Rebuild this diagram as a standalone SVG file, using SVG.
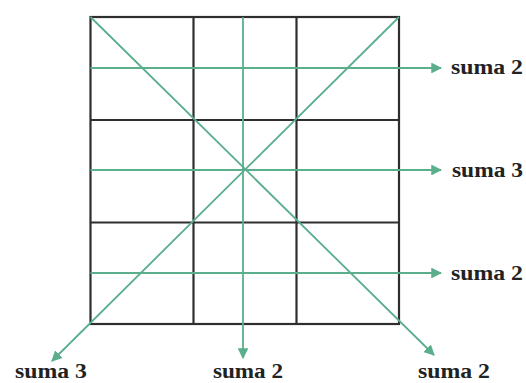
<svg xmlns="http://www.w3.org/2000/svg" width="526" height="383" viewBox="0 0 526 383">
<style>
.grid{stroke:#2e2e2e;stroke-width:2.2;fill:none}
.con{stroke:#5aae8c;stroke-width:1.8;fill:none}
.lbl{font-family:"Liberation Serif",serif;font-weight:bold;font-size:20px;fill:#222}
</style>
<defs>
<marker id="ah" viewBox="0 0 10 10" refX="9" refY="5" markerWidth="6" markerHeight="6" orient="auto" markerUnits="strokeWidth">
<path d="M0,0 L10,5 L0,10 z" fill="#5aae8c"/>
</marker>
</defs>
<rect width="526" height="383" fill="#fff"/>
<g id="grid">
<rect class="grid" x="90.5" y="17" width="308.5" height="307"/>
<line class="grid" x1="193.5" y1="17" x2="193.5" y2="324"/>
<line class="grid" x1="296.5" y1="17" x2="296.5" y2="324"/>
<line class="grid" x1="90.5" y1="120" x2="399" y2="120"/>
<line class="grid" x1="90.5" y1="222.5" x2="399" y2="222.5"/>
</g>
<g id="connectors">
<line class="con" x1="90.5" y1="68" x2="441" y2="68" marker-end="url(#ah)"/>
<line class="con" x1="90.5" y1="170" x2="441" y2="170" marker-end="url(#ah)"/>
<line class="con" x1="90.5" y1="273" x2="441" y2="273" marker-end="url(#ah)"/>
<line class="con" x1="243" y1="17" x2="243" y2="358" marker-end="url(#ah)"/>
<line class="con" x1="90.5" y1="17" x2="434" y2="355" marker-end="url(#ah)"/>
<line class="con" x1="399" y1="17" x2="52" y2="361" marker-end="url(#ah)"/>
</g>
<g id="label-r1"><text class="lbl" x="451" y="74" textLength="72" lengthAdjust="spacingAndGlyphs">suma 2</text></g>
<g id="label-r2"><text class="lbl" x="452" y="176.5" textLength="71" lengthAdjust="spacingAndGlyphs">suma 3</text></g>
<g id="label-r3"><text class="lbl" x="451" y="280" textLength="72" lengthAdjust="spacingAndGlyphs">suma 2</text></g>
<g id="label-b1"><text class="lbl" x="15" y="378" textLength="72" lengthAdjust="spacingAndGlyphs">suma 3</text></g>
<g id="label-b2"><text class="lbl" x="213" y="378" textLength="70" lengthAdjust="spacingAndGlyphs">suma 2</text></g>
<g id="label-b3"><text class="lbl" x="418" y="378" textLength="72" lengthAdjust="spacingAndGlyphs">suma 2</text></g>
</svg>
